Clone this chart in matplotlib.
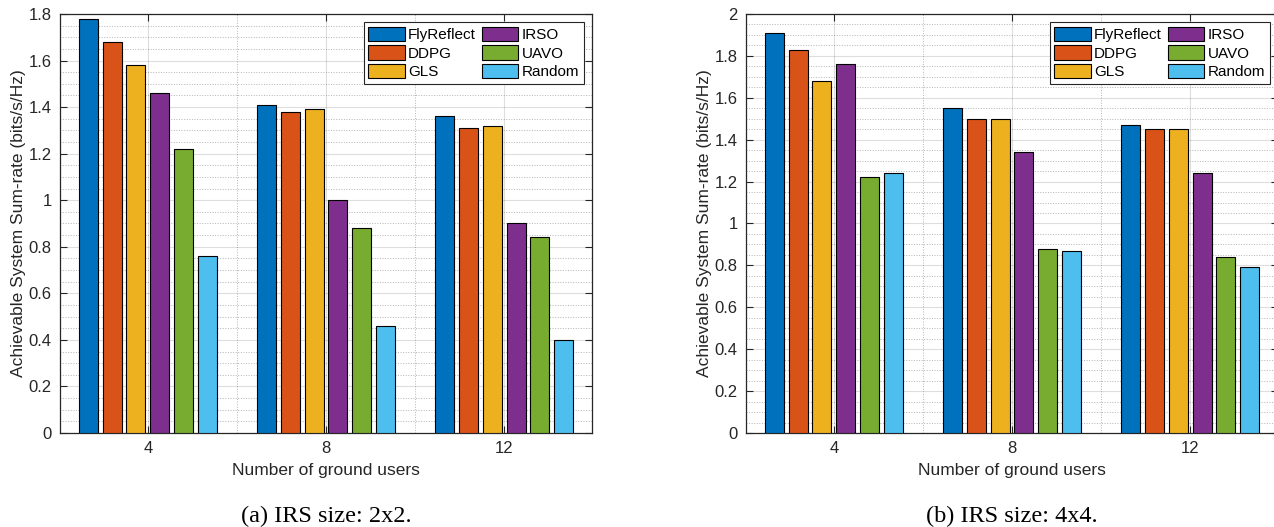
"""
Achievable system sum-rate vs number of ground users, two IRS sizes.
Output: out.png
"""

import numpy as np
import matplotlib
matplotlib.use("Agg")
import matplotlib.pyplot as plt
from matplotlib.ticker import MultipleLocator

plt.rcParams["font.family"] = ["Liberation Sans", "DejaVu Sans"]

USERS   = [4, 8, 12]
METHODS = ["FlyReflect", "DDPG", "GLS", "IRSO", "UAVO", "Random"]
COLS    = ["#0072BD", "#D95319", "#EDB120", "#7E2F8E", "#77AC30", "#4DBEEE"]

# rows = methods, cols = users (4, 8, 12)
RATE_2x2 = [
    [1.78, 1.41, 1.36],   # FlyReflect
    [1.68, 1.38, 1.31],   # DDPG
    [1.58, 1.39, 1.32],   # GLS
    [1.46, 1.00, 0.90],   # IRSO
    [1.22, 0.88, 0.84],   # UAVO
    [0.76, 0.46, 0.40],   # Random
]
RATE_4x4 = [
    [1.91, 1.55, 1.47],
    [1.83, 1.50, 1.45],
    [1.68, 1.50, 1.45],
    [1.76, 1.34, 1.24],
    [1.22, 0.88, 0.84],
    [1.24, 0.87, 0.79],
]

TXT = "#262626"
W, H = 1274, 527


def draw(ax, data, ymax, caption):
    x = np.array(USERS, dtype=float)
    step, width = 0.533, 0.43
    for k, (name, vals, col) in enumerate(zip(METHODS, data, COLS)):
        off = (k - 2.5) * step
        ax.bar(x + off, vals, width, color=col, edgecolor="black",
               linewidth=0.8, label=name, zorder=3)

    ax.set_xlim(2.03, 13.97)
    ax.set_ylim(0, ymax)
    ax.set_xticks(USERS)
    ax.yaxis.set_major_locator(MultipleLocator(0.2))
    ax.yaxis.set_minor_locator(MultipleLocator(0.05))
    ax.xaxis.set_minor_locator(MultipleLocator(2))
    ax.yaxis.set_major_formatter(
        plt.FuncFormatter(lambda v, p: f"{v:.1f}".rstrip("0").rstrip(".") if v else "0"))

    ax.grid(which="major", color=TXT, alpha=0.15, linewidth=0.8, linestyle="-", zorder=0)
    ax.grid(which="minor", color=TXT, alpha=0.35, linewidth=0.7, linestyle=":", zorder=0)
    ax.set_axisbelow(True)

    ax.tick_params(which="major", direction="in", length=5, width=0.8,
                   top=True, right=True, labelsize=12, colors=TXT, pad=6)
    ax.tick_params(which="minor", length=0, top=True, right=True)
    for sp in ax.spines.values():
        sp.set_color(TXT); sp.set_linewidth(0.9)

    ax.set_xlabel("Number of ground users", fontsize=12.5, color=TXT, labelpad=5)
    ax.set_ylabel("Achievable System Sum-rate (bits/s/Hz)", fontsize=12.5,
                  color=TXT, labelpad=2)

    leg = ax.legend(ncol=2, loc="upper right", fontsize=11, fancybox=False,
                    edgecolor=TXT, framealpha=1, borderaxespad=0.55,
                    handlelength=2.4, handleheight=1.05, handletextpad=0.2,
                    columnspacing=0.4, labelspacing=0.2, borderpad=0.3)
    leg.get_frame().set_linewidth(0.8)

    ax.text(0.5, -0.2, caption, transform=ax.transAxes, ha="center",
            va="center", fontsize=17.5, family="Liberation Serif",
            color="black")


fig = plt.figure(figsize=(W / 100, H / 100), dpi=100)
ax_l = fig.add_axes([60 / W, 1 - 433 / H, 532 / W, 419 / H])
ax_r = fig.add_axes([746 / W, 1 - 433 / H, 532 / W, 419 / H])

draw(ax_l, RATE_2x2, 1.8, "(a) IRS size: 2x2.")
draw(ax_r, RATE_4x4, 2.0, "(b) IRS size: 4x4.")

fig.savefig("out.png", dpi=100)
